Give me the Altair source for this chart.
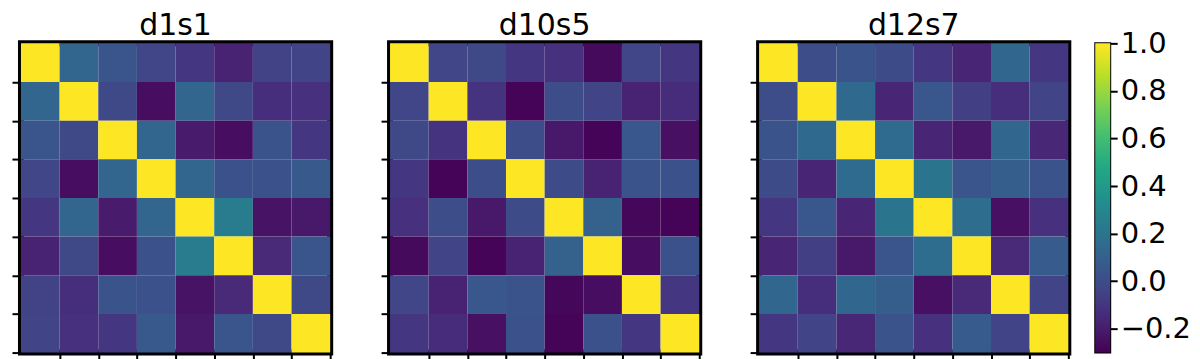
import altair as alt
import pandas as pd

titles = ["d1s1", "d10s5", "d12s7"]

d1s1 = [
    [1.00, 0.12, 0.04, -0.03, -0.10, -0.18, -0.05, -0.04],
    [0.12, 1.00, -0.02, -0.26, 0.12, -0.02, -0.13, -0.12],
    [0.04, -0.02, 1.00, 0.12, -0.21, -0.26, 0.03, -0.10],
    [-0.03, -0.26, 0.12, 1.00, 0.12, 0.02, 0.02, 0.06],
    [-0.10, 0.12, -0.21, 0.12, 1.00, 0.24, -0.24, -0.22],
    [-0.18, -0.02, -0.26, 0.02, 0.24, 1.00, -0.15, 0.04],
    [-0.05, -0.13, 0.03, 0.02, -0.24, -0.15, 1.00, -0.02],
    [-0.04, -0.12, -0.10, 0.06, -0.22, 0.04, -0.02, 1.00],
]
d10s5 = [
    [1.00, -0.03, -0.02, -0.10, -0.12, -0.27, -0.03, -0.10],
    [-0.03, 1.00, -0.11, -0.29, 0.00, -0.04, -0.18, -0.14],
    [-0.02, -0.11, 1.00, 0.00, -0.22, -0.29, 0.05, -0.25],
    [-0.10, -0.29, 0.00, 1.00, -0.01, -0.18, 0.03, 0.02],
    [-0.12, 0.00, -0.22, -0.01, 1.00, 0.10, -0.28, -0.29],
    [-0.27, -0.04, -0.29, -0.18, 0.10, 1.00, -0.26, 0.02],
    [-0.03, -0.18, 0.05, 0.03, -0.28, -0.26, 1.00, -0.10],
    [-0.10, -0.14, -0.25, 0.02, -0.29, 0.02, -0.10, 1.00],
]
d12s7 = [
    [1.00, 0.00, 0.03, -0.01, -0.10, -0.17, 0.13, -0.10],
    [0.00, 1.00, 0.14, -0.17, 0.05, -0.06, -0.13, -0.04],
    [0.03, 0.14, 1.00, 0.15, -0.17, -0.22, 0.13, -0.16],
    [-0.01, -0.17, 0.15, 1.00, 0.20, 0.04, 0.08, 0.03],
    [-0.10, 0.05, -0.17, 0.20, 1.00, 0.16, -0.25, -0.12],
    [-0.17, -0.06, -0.22, 0.04, 0.16, 1.00, -0.15, 0.07],
    [0.13, -0.13, 0.13, 0.08, -0.25, -0.15, 1.00, -0.04],
    [-0.10, -0.04, -0.16, 0.03, -0.12, 0.07, -0.04, 1.00],
]
matrices = [d1s1, d10s5, d12s7]

color_domain = [-0.30, 1.0]
colorbar_ticks = [-0.2, 0.0, 0.2, 0.4, 0.6, 0.8, 1.0]
cell_ticks = [1, 2, 3, 4, 5, 6, 7, 8]
viridis_stops = ["#440154", "#482475", "#414487", "#355f8d", "#2a788e",
                 "#21918c", "#22a884", "#44bf70", "#7ad151", "#bddf26", "#fde725"]

FONT = "DejaVu Sans"
W = 310
H = 310
TITLE_SIZE = 30
TITLE_OFFSET = 2
LABEL_SIZE = 29


def frame(matrix):
    rows = []
    for r, line in enumerate(matrix):
        for c, v in enumerate(line):
            rows.append({"row": r, "col": c, "value": v})
    return pd.DataFrame(rows)


def make_title(text, offset):
    return alt.Title(text, fontSize=TITLE_SIZE, font=FONT, fontWeight="normal",
                     color="black", offset=offset)


def heat(matrix, name):
    tick_axis = dict(values=cell_ticks, labels=False, ticks=True, tickSize=9,
                     tickWidth=2, tickColor="black", domain=False, grid=False, title=None)
    return (
        alt.Chart(frame(matrix))
        .transform_calculate(col2="datum.col + 1", row2="datum.row + 1")
        .mark_rect()
        .encode(
            x=alt.X("col:Q", scale=alt.Scale(domain=[0, 8], nice=False, zero=False),
                    axis=alt.Axis(orient="bottom", **tick_axis)),
            x2="col2:Q",
            y=alt.Y("row:Q", scale=alt.Scale(domain=[0, 8], nice=False, zero=False, reverse=True),
                    axis=alt.Axis(orient="left", **tick_axis)),
            y2="row2:Q",
            color=alt.Color("value:Q",
                            scale=alt.Scale(scheme="viridis", domain=color_domain, nice=False, zero=False),
                            legend=None),
        )
        .properties(width=W, height=H, title=make_title(name, TITLE_OFFSET))
    )


panels = alt.hconcat(*[heat(m, t) for m, t in zip(matrices, titles)], spacing=60, bounds="flush")

bar_df = pd.DataFrame({"lo": [color_domain[0]], "hi": [color_domain[1]], "x0": [0], "x1": [1]})
n = len(viridis_stops) - 1
gradient = alt.LinearGradient(
    gradient="linear",
    stops=[alt.GradientStop(offset=i / n, color=c) for i, c in enumerate(viridis_stops)],
    x1=0, x2=0, y1=1, y2=0,
)
colorbar = (
    alt.Chart(bar_df)
    .mark_rect(fill=gradient)
    .encode(
        x=alt.X("x0:Q", scale=alt.Scale(domain=[0, 1], nice=False), axis=None),
        x2="x1:Q",
        y=alt.Y("lo:Q", scale=alt.Scale(domain=color_domain, nice=False, zero=False),
                axis=alt.Axis(orient="right", values=colorbar_ticks, format=".1f", tickSize=7,
                              tickWidth=2, tickColor="black", labelFontSize=LABEL_SIZE, labelFont=FONT,
                              labelColor="black", labelPadding=3, domain=False, grid=False,
                              title=None, labelOverlap=False, labelBaseline="middle")),
        y2="hi:Q",
    )
    .properties(width=15, height=H, title=make_title(" ", TITLE_OFFSET - LABEL_SIZE / 2 + 2),
                view=alt.ViewBackground(stroke="black", strokeWidth=2))
)

chart = (
    alt.hconcat(panels, colorbar, spacing=22)
    .properties(padding=0)
    .configure_view(stroke="black", strokeWidth=6)
)

chart.save("out.html", embed_options={"renderer": "svg", "actions": False})
